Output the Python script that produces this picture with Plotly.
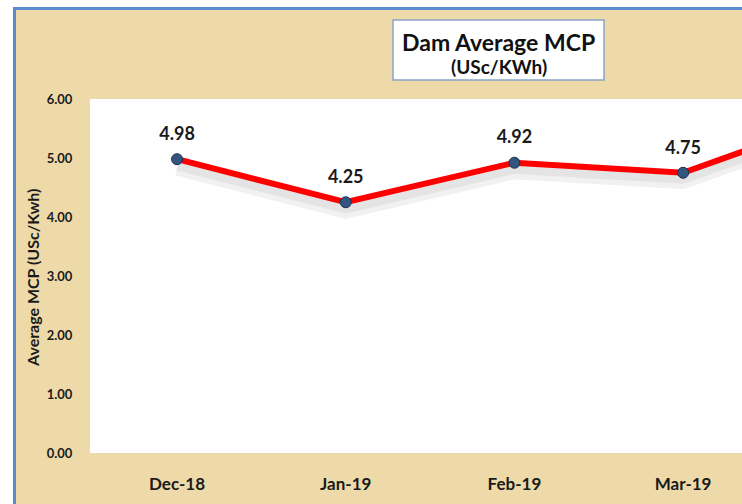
import plotly.graph_objects as go

months = ["Dec-18", "Jan-19", "Feb-19", "Mar-19", "Apr-19"]
mcp = [4.98, 4.25, 4.92, 4.75, 5.77]
y_ticks = [0, 1, 2, 3, 4, 5, 6]
y_tick_labels = ["0.00", "1.00", "2.00", "3.00", "4.00", "5.00", "6.00"]

W, H = 742, 504
L, R, T, B = 90, 0, 99, 51
pw, ph = W - L - R, H - T - B

def px(x):
    return (x - L) / pw

def py(y):
    return (H - B - y) / ph

FONT = "Lato"
PAPYRUS = "#EEDAA8"
xs = list(range(len(months)))
x_max = 3.349
labels = [f"{v:.2f}" if x <= x_max else "" for x, v in zip(xs, mcp)]

fig = go.Figure()
# soft shadow under the line
fig.add_trace(go.Scatter(
    x=xs, y=[v - 0.16 for v in mcp], mode="lines",
    line=dict(color="rgba(60,60,60,0.07)", width=14),
    hoverinfo="skip", showlegend=False))
fig.add_trace(go.Scatter(
    x=xs, y=[v - 0.12 for v in mcp], mode="lines",
    line=dict(color="rgba(60,60,60,0.07)", width=8),
    hoverinfo="skip", showlegend=False))
fig.add_trace(go.Scatter(
    x=xs, y=mcp, mode="lines+markers",
    line=dict(color="#FF0000", width=6),
    marker=dict(size=11, color="#34557F", line=dict(color="#1B2F4D", width=1)),
    showlegend=False))
fig.add_trace(go.Scatter(
    x=xs, y=mcp, mode="markers+text",
    marker=dict(size=22, color="rgba(0,0,0,0)"),
    text=labels, textposition="top center",
    textfont=dict(family=FONT, size=18, color="#1a1a1a", weight="bold"),
    hoverinfo="skip", showlegend=False))

shapes = [
    # white outside the frame
    dict(type="rect", xref="paper", yref="paper", x0=px(-5), x1=px(13), y0=py(600), y1=py(-5),
         fillcolor="white", line_width=0, layer="above"),
    dict(type="rect", xref="paper", yref="paper", x0=px(-5), x1=px(800), y0=py(7), y1=py(-5),
         fillcolor="white", line_width=0, layer="above"),
    # blue frame lines
    dict(type="line", xref="paper", yref="paper", x0=px(14.5), x1=px(14.5), y0=py(8), y1=py(600),
         line=dict(color="#5A8AD2", width=3), layer="above"),
    dict(type="line", xref="paper", yref="paper", x0=px(13), x1=px(800), y0=py(8.5), y1=py(8.5),
         line=dict(color="#5A8AD2", width=3), layer="above"),
    # title box
    dict(type="rect", xref="paper", yref="paper", x0=px(393), x1=px(604), y0=py(80), y1=py(20),
         fillcolor="white", line=dict(color="#8AA4C8", width=1.5), layer="above"),
]

annotations = [
    dict(xref="paper", yref="paper", x=px(498.5), y=py(42), text="<b>Dam Average MCP</b>",
         showarrow=False, font=dict(family=FONT, size=23, color="#111111"), xanchor="center", yanchor="middle"),
    dict(xref="paper", yref="paper", x=px(498.5), y=py(67), text="<b>(USc/KWh)</b>",
         showarrow=False, font=dict(family=FONT, size=19, color="#111111"), xanchor="center", yanchor="middle"),
    dict(xref="paper", yref="paper", x=px(32), y=py(278), text="<b>Average MCP (USc/Kwh)</b>",
         showarrow=False, textangle=-90, font=dict(family=FONT, size=16, color="#1a1a1a"),
         xanchor="center", yanchor="middle"),
]

fig.update_layout(
    width=W, height=H,
    margin=dict(l=L, r=R, t=T, b=B, pad=0),
    paper_bgcolor=PAPYRUS, plot_bgcolor="white",
    shapes=shapes, annotations=annotations,
    xaxis=dict(range=[-0.516, x_max], tickmode="array", tickvals=xs, ticktext=months,
               showgrid=False, zeroline=False, showline=False,
               ticks="outside", ticklen=16, tickcolor="rgba(0,0,0,0)",
               tickfont=dict(family=FONT, size=17, color="#1a1a1a", weight="bold")),
    yaxis=dict(range=[0, 6], tickmode="array", tickvals=y_ticks, ticktext=y_tick_labels,
               showgrid=False, zeroline=False, showline=False,
               ticks="outside", ticklen=14, tickcolor="rgba(0,0,0,0)",
               tickfont=dict(family=FONT, size=13, color="#1a1a1a", weight="bold")),
)

fig.write_html("out.html", config={"displayModeBar": False},
               post_script="document.body.style.margin='0';document.body.style.overflow='hidden';")
